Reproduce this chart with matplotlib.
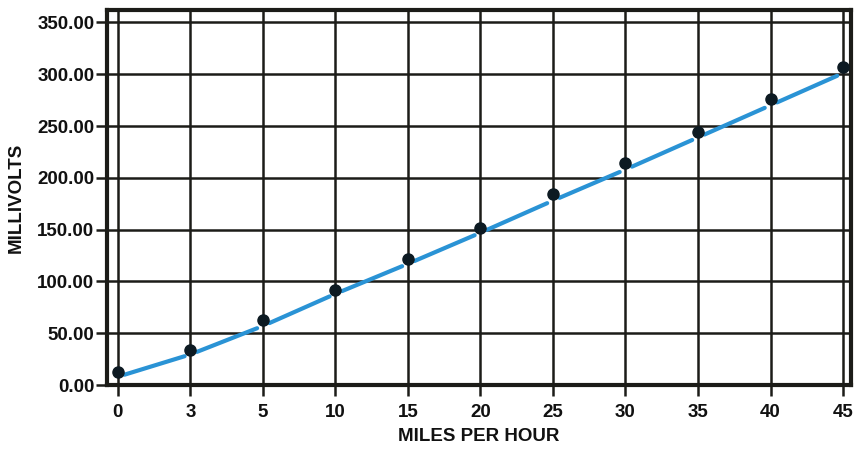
import matplotlib
matplotlib.use("Agg")
import matplotlib.pyplot as plt
import numpy as np

categories = ["0", "3", "5", "10", "15", "20", "25", "30", "35", "40", "45"]
measured_mv = [12.6, 34, 63, 92, 122, 152, 184, 214, 244, 276, 307]
trend_mv = [8, 29.5, 57, 88, 117, 147, 178, 208, 239, 270, 301]
y_ticks = [0, 50, 100, 150, 200, 250, 300, 350]

plt.rcParams['font.family'] = ['Liberation Sans', 'DejaVu Sans']

fig = plt.figure(figsize=(8.56, 4.49), dpi=100)
ax = fig.add_axes([107/856, 1-385/449, (851-107)/856, (385-10)/449])

x = np.arange(len(categories))
ink = '#1c1c18'
blue = '#2a93d5'

# grid
for yt in y_ticks:
    ax.axhline(yt, color=ink, lw=1.8, zorder=1)
for xi in x:
    ax.axvline(xi, color=ink, lw=1.8, zorder=1)

# trend line drawn in segments with small gaps at each point
for i in range(len(x) - 1):
    a, b = 0.09, 0.92
    xs = [x[i] + a, x[i] + b]
    ys = [trend_mv[i] + a * (trend_mv[i+1] - trend_mv[i]),
          trend_mv[i] + b * (trend_mv[i+1] - trend_mv[i])]
    ax.plot(xs, ys, color=blue, lw=3, solid_capstyle='round', zorder=2)

ax.plot(x, measured_mv, 'o', color='#0d1a22', ms=8, zorder=3)

ax.set_xlim(-0.15, 10.11)
ax.set_ylim(0, 362)
ax.set_xticks(x)
ax.set_xticklabels(categories)
ax.set_yticks(y_ticks)
ax.set_yticklabels([f"{v:.2f}" for v in y_ticks])
ax.tick_params(axis='both', length=8, width=1.8, color=ink, labelsize=13.5,
               labelcolor='#111111')
ax.tick_params(axis='y', pad=1)
ax.tick_params(axis='x', pad=6)
for lbl in ax.get_xticklabels() + ax.get_yticklabels():
    lbl.set_fontweight('bold')
for s in ax.spines.values():
    s.set_linewidth(3)
    s.set_color(ink)

ax.set_xlabel("MILES PER HOUR", fontsize=13.5, fontweight='bold', labelpad=5,
              color='#111111')
ax.set_ylabel("MILLIVOLTS", fontsize=13.5, fontweight='bold',
              color='#111111')
ax.yaxis.set_label_coords(-(107 - 16) / 744, 0.5)
ax.yaxis.label.set_va('center')

fig.savefig("out.png", dpi=100)
